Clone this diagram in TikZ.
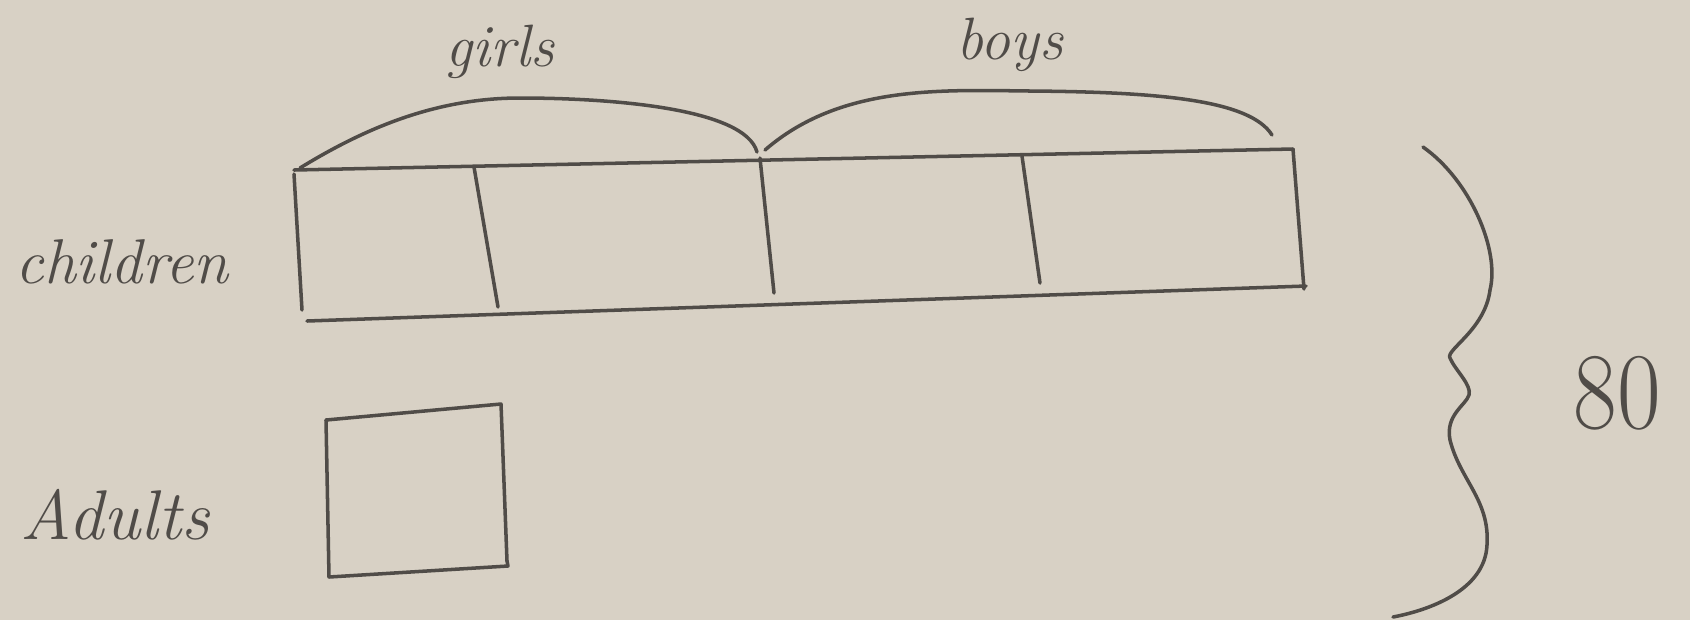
\documentclass[tikz,border=0pt]{standalone}
\usepackage{fontspec}
\begin{document}
\begin{tikzpicture}[x=0.01cm,y=-0.01cm,
  pen/.style={draw=ink,line width=1pt,line cap=round,line join=round},
  hand/.style={text=ink,font=\itshape\fontsize{#1}{#1}\selectfont,inner sep=0pt}]
\definecolor{paper}{RGB}{216,209,197}
\definecolor{ink}{RGB}{80,76,72}
\useasboundingbox (0,0) rectangle (1690,620);
\fill[paper] (0,0) rectangle (1690,620);
% children bar corners
\coordinate (TL) at (294,170);
\coordinate (TR) at (1293,149);
\coordinate (BL) at (307,321);
\coordinate (BR) at (1306,286);
\draw[pen] (TL) -- (TR);
\draw[pen] (TR) -- (1304,289);
\draw[pen] (294,174) -- (302,310);
\draw[pen] (BL) -- (BR);
% dividers
\coordinate (d1t) at (474,167); \coordinate (d1b) at (498,307);
\coordinate (d2t) at (760,158); \coordinate (d2b) at (774,293);
\coordinate (d3t) at (1022,156); \coordinate (d3b) at (1040,283);
\draw[pen] (d1t) -- (d1b);
\draw[pen] (d2t) -- (d2b);
\draw[pen] (d3t) -- (d3b);
% arcs
\coordinate (g0) at (300,168);
\coordinate (g1) at (757,152);
\coordinate (b0) at (765,150);
\coordinate (b1) at (1272,135);
\draw[pen] (g0) .. controls (370,125) and (440,98) .. (520,98)
  .. controls (610,98) and (745,108) .. (g1);
\draw[pen] (b0) .. controls (840,85) and (940,90) .. (1030,91)
  .. controls (1160,92) and (1250,100) .. (b1);
% adults box
\coordinate (AL) at (326,420);
\coordinate (AR) at (501,404);
\coordinate (AB) at (507,561);
\coordinate (AC) at (329,577);
\draw[pen] (AL) -- (AR) -- (AB);
\draw[pen] (AL) -- (AC) -- (508,566) -- (AB);
% brace
\coordinate (br0) at (1423,147);
\coordinate (br1) at (1393,617);
\draw[pen] (br0) .. controls (1470,180) and (1500,250) .. (1490,290)
  .. controls (1485,330) and (1445,350) .. (1450,358)
  .. controls (1455,370) and (1472,385) .. (1469,395)
  .. controls (1466,405) and (1445,415) .. (1450,440)
  .. controls (1460,480) and (1490,500) .. (1487,545)
  .. controls (1485,590) and (1430,610) .. (br1);
% labels
\node[hand=17] (girls) at (500,52) {girls};
\node[hand=17] (boys) at (1010,45) {boys};
\node[hand=18] (children) at (122,262) {children};
\node[hand=20] (adults) at (115,515) {Adults};
\node[text=ink,font=\fontsize{27}{27}\selectfont,inner sep=0pt,yscale=1.15] (eighty) at (1617,393) {80};
\end{tikzpicture}
\end{document}
